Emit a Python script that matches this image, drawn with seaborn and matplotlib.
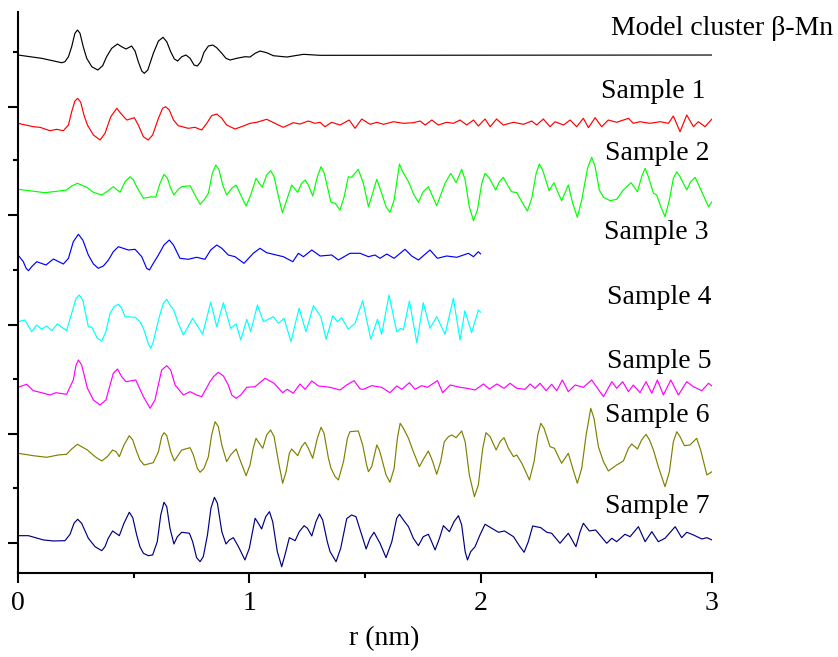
import numpy as np
import pandas as pd
import seaborn as sns
import matplotlib.pyplot as plt
from matplotlib.ticker import MultipleLocator

# (r in nm, G(r) in arbitrary units), one list per curve
model = [(0, 0), (0.102, -0.33), (0.189, -0.77), (0.203, -0.67), (0.218, -0.17), (0.232, 0.83), (0.246, 2.17),
         (0.257, 2.5), (0.268, 2.17), (0.282, 0.83), (0.297, -0.33), (0.319, -1.17), (0.345, -1.5), (0.366, -1.07),
         (0.383, -0.17), (0.405, 0.67), (0.430, 1.1), (0.448, 0.83), (0.467, 0.6), (0.491, 0.9), (0.506, 0.4),
         (0.520, -0.67), (0.535, -1.6), (0.546, -1.83), (0.561, -1.5), (0.585, 0.17), (0.607, 1.4), (0.627, 1.77),
         (0.643, 1.33), (0.660, 0.33), (0.676, -0.4), (0.690, -0.6), (0.708, -0.17), (0.726, 0), (0.744, -0.33),
         (0.761, -1.0), (0.775, -1.1), (0.790, -0.67), (0.804, 0.27), (0.823, 0.9), (0.842, 1.0), (0.859, 0.73),
         (0.881, 0.17), (0.899, -0.33), (0.917, -0.5), (0.945, -0.33), (0.981, -0.17), (1.003, -0.2), (1.025, 0.17),
         (1.046, 0.4), (1.075, 0.23), (1.104, -0.07), (1.162, -0.2), (1.234, 0.07), (1.306, -0.03), (3.0, 0)]

sample1 = [(0, -0.03), (0.066, -0.37), (0.095, -0.43), (0.138, -0.77), (0.167, -0.63), (0.196, -0.77), (0.218, -0.2),
           (0.232, 1.13), (0.246, 2.2), (0.258, 2.47), (0.271, 2.07), (0.285, 0.8), (0.300, -0.2), (0.326, -1.2),
           (0.355, -1.7), (0.376, -1.03), (0.401, 0.63), (0.427, 1.47), (0.444, 0.97), (0.470, 0.3), (0.503, 0.53),
           (0.520, -0.2), (0.542, -1.37), (0.563, -1.7), (0.582, -1.2), (0.607, 0.47), (0.625, 1.47), (0.638, 1.63),
           (0.654, 1.3), (0.672, 0.3), (0.693, -0.27), (0.736, -0.53), (0.765, -0.43), (0.794, -0.7), (0.816, -0.03),
           (0.837, 0.73), (0.859, 0.9), (0.881, 0.47), (0.902, -0.2), (0.938, -0.6), (0.974, -0.3), (1.003, -0.03),
           (1.032, 0.07), (1.075, 0.37), (1.111, -0.03), (1.147, -0.43), (1.190, 0.03), (1.219, -0.1),
           (1.255, 0.2), (1.284, -0.03), (1.306, 0.07), (1.327, -0.37), (1.356, 0.07), (1.392, -0.2), (1.432, 0.3),
           (1.457, -0.53), (1.486, 0.4), (1.522, -0.13), (1.551, 0.07), (1.580, -0.13), (1.623, 0.13), (1.666, -0.03),
           (1.709, 0.03), (1.738, 0.2), (1.760, -0.2), (1.789, 0.3), (1.817, -0.2), (1.853, 0.07), (1.882, -0.03),
           (1.911, 0.3), (1.940, -0.2), (1.969, 0.3), (1.990, -0.3), (2.019, 0.4), (2.041, -0.37), (2.069, 0.4),
           (2.098, -0.2), (2.142, 0.07), (2.185, -0.13), (2.221, 0.2), (2.242, -0.2), (2.271, 0.4), (2.300, -0.37),
           (2.322, 0.13), (2.358, -0.2), (2.387, 0.3), (2.415, -0.37), (2.444, 0.47), (2.466, -0.47), (2.495, 0.53),
           (2.523, -0.37), (2.552, 0.3), (2.588, 0.07), (2.639, 0.47), (2.660, -0.03), (2.689, 0.13), (2.732, -0.03),
           (2.776, 0.13), (2.812, -0.03), (2.833, 0.7), (2.862, -0.87), (2.891, 0.8), (2.920, -0.37), (2.941, 0.13),
           (2.970, -0.37), (3.0, 0.4)]

sample2 = [(0, 0.07), (0.117, -0.27), (0.210, 0), (0.232, 0.4), (0.257, 0.67), (0.297, 0.27), (0.326, -0.23),
           (0.362, -0.5), (0.390, -0.07), (0.412, 0.33), (0.441, -0.23), (0.463, 0.83), (0.484, 1.33), (0.499, 1.0),
           (0.513, 0.33), (0.542, -0.83), (0.578, -0.67), (0.595, -0.73), (0.614, 0.67), (0.631, 1.57), (0.646, 1.17),
           (0.660, 0.17), (0.674, -0.5), (0.693, 0.07), (0.708, 0.33), (0.744, 0.43), (0.761, -0.33), (0.787, -1.43),
           (0.804, -1.0), (0.823, -0.33), (0.840, 1.67), (0.855, 2.5), (0.869, 2.0), (0.885, 0.5), (0.902, -0.5),
           (0.924, 0.17), (0.943, 0.5), (0.963, -0.5), (0.986, -1.6), (1.006, -0.5), (1.029, 1.17), (1.043, 0.67),
           (1.056, 0.27), (1.075, 1.5), (1.092, 1.93), (1.107, 1.33), (1.126, -0.67), (1.143, -2.27), (1.157, -1.33),
           (1.183, 0.5), (1.209, -0.23), (1.226, 0.67), (1.241, 1.0), (1.255, 0.5), (1.274, -0.6), (1.294, 1.33),
           (1.310, 2.33), (1.324, 1.67), (1.353, -1.23), (1.371, -1.33), (1.392, -2.0), (1.410, -0.67), (1.428, 1.33),
           (1.442, 1.27), (1.471, 2.07), (1.493, 0.67), (1.515, -1.67), (1.533, -0.33), (1.551, 1.07), (1.572, -0.33),
           (1.591, -1.67), (1.608, -2.23), (1.626, -1.0), (1.649, 2.6), (1.663, 1.83), (1.688, 0.83), (1.712, -0.5),
           (1.731, -1.23), (1.752, -0.17), (1.774, 0.33), (1.793, -0.67), (1.810, -1.57), (1.827, -0.5), (1.846, 0.67),
           (1.871, 1.67), (1.894, 0.73), (1.918, 2.07), (1.933, 1.0), (1.951, -1.67), (1.969, -3.07), (1.986, -2.0),
           (2.005, 0.67), (2.019, 1.67), (2.038, 1.17), (2.065, 0), (2.081, 0.83), (2.098, 1.27), (2.116, 0.5),
           (2.134, -0.17), (2.156, -0.27), (2.178, -1.17), (2.202, -2.1), (2.221, -0.83), (2.240, 1.67), (2.254, 2.6),
           (2.268, 2.0), (2.296, -0.07), (2.317, 0.73), (2.336, -0.33), (2.350, -1.07), (2.379, 0.5), (2.398, -1.33),
           (2.418, -2.73), (2.437, -1.0), (2.462, 2.17), (2.480, 3.27), (2.495, 2.33), (2.513, 0), (2.531, -0.73),
           (2.560, -1.07), (2.588, -0.93), (2.617, 0), (2.650, 0.73), (2.678, -0.17), (2.696, 1.33), (2.711, 2.17),
           (2.725, 1.33), (2.747, -0.33), (2.761, -0.5), (2.779, -1.67), (2.797, -2.67), (2.816, -1.0), (2.833, 1.17),
           (2.848, 1.83), (2.862, 1.33), (2.891, 0), (2.908, 0.83), (2.927, 1.27), (2.946, 0.33), (2.985, -1.67),
           (3.0, -1.17)]

sample3 = [(0, 0), (0.023, -0.67), (0.035, -1.33), (0.045, -1.57), (0.059, -1.17), (0.081, -0.67), (0.121, -1.0),
           (0.153, -0.4), (0.196, -0.9), (0.218, -0.33), (0.239, 1.33), (0.261, 2.07), (0.280, 1.5), (0.304, 0),
           (0.326, -0.9), (0.347, -1.33), (0.369, -1.1), (0.391, -0.5), (0.412, 0.33), (0.434, 0.83), (0.477, 0.5),
           (0.506, 0.57), (0.535, -0.17), (0.556, -1.33), (0.568, -1.5), (0.585, -0.83), (0.607, 0), (0.631, 1.0),
           (0.654, 1.5), (0.672, 1.0), (0.700, -0.33), (0.736, -0.43), (0.772, -0.23), (0.808, -0.43), (0.833, 0.5),
           (0.859, 1.0), (0.881, 0.67), (0.909, 0), (0.938, -0.17), (0.977, -0.83), (1.017, 0.17), (1.046, 0.67),
           (1.075, 0.23), (1.147, -0.17), (1.188, -0.67), (1.212, 0.17), (1.234, -0.17), (1.270, 0.5), (1.306, -0.1),
           (1.356, 0), (1.385, -0.5), (1.435, 0.17), (1.479, 0.17), (1.515, -0.17), (1.543, 0), (1.565, -0.33),
           (1.594, 0.1), (1.626, -0.33), (1.673, 0.57), (1.702, -0.1), (1.731, -0.5), (1.781, 0.5), (1.813, -0.33),
           (1.853, -0.1), (1.897, -0.23), (1.947, 0.17), (1.969, -0.17), (1.990, 0.33), (2.0, 0.1)]

sample4 = [(0, 0.03), (0.030, 0.2), (0.059, -0.97), (0.081, -0.3), (0.102, -0.73), (0.124, -0.4), (0.146, -0.87),
           (0.170, -0.2), (0.210, -0.87), (0.232, 0.87), (0.251, 2.37), (0.265, 2.7), (0.280, 2.2), (0.304, -0.47),
           (0.319, -0.53), (0.343, -1.63), (0.362, -1.9), (0.380, -0.97), (0.398, 0.87), (0.415, 1.53), (0.434, 1.77),
           (0.448, 1.37), (0.463, 0.53), (0.506, 0.47), (0.527, 0.03), (0.542, -0.63), (0.563, -2.13), (0.574, -2.63),
           (0.585, -1.97), (0.607, 0.2), (0.628, 1.87), (0.643, 2.27), (0.657, 1.7), (0.672, 1.27), (0.693, -0.13),
           (0.715, -1.3), (0.755, 0.37), (0.798, -1.23), (0.833, 1.97), (0.859, -0.47),
           (0.888, 1.93), (0.919, -0.63), (0.943, -0.2), (0.963, -1.8), (0.989, 0.27), (1.006, -0.97), (1.035, 1.7),
           (1.061, 0.03), (1.104, 0.53), (1.126, -0.13), (1.150, 0.37), (1.180, -1.97), (1.215, 1.37), (1.245, -0.97),
           (1.277, 1.63), (1.309, 0.53), (1.332, -1.73), (1.361, 0.63), (1.381, 0.03), (1.399, 0.43), (1.428, -0.73),
           (1.457, -0.13), (1.490, 2.13), (1.525, -1.73), (1.554, 0.27), (1.572, -1.23), (1.604, 2.7), (1.637, -0.97),
           (1.654, -0.63), (1.666, -0.8), (1.692, 2.1), (1.724, -2.07), (1.752, 1.93), (1.781, -0.63), (1.810, 0.53),
           (1.846, -1.23), (1.882, 2.37), (1.911, -1.8), (1.932, 1.13), (1.961, -1.07), (1.990, 1.2), (2.0, 0.97)]

sample5 = [(0, -0.03), (0.038, 0.27), (0.066, -0.37), (0.102, -0.57), (0.138, -0.8), (0.164, -0.57), (0.210, -0.73),
           (0.239, 0.7), (0.251, 2.2), (0.261, 2.7), (0.275, 2.2), (0.300, -0.13), (0.326, -1.3), (0.354, -1.8),
           (0.380, -1.3), (0.412, 1.37), (0.430, 1.8), (0.448, 1.03), (0.467, 0.53), (0.509, 0.7), (0.542, -0.97),
           (0.571, -2.13), (0.592, -1.3), (0.621, 1.7), (0.643, 2.13), (0.660, 1.7), (0.679, 0.2), (0.715, -0.8),
           (0.744, -0.47), (0.772, -0.8), (0.794, -0.97), (0.830, 0.53), (0.845, 1.03), (0.866, 1.47), (0.888, 1.1),
           (0.909, 0.2), (0.924, -0.8), (0.943, -1.13), (0.963, -0.8), (0.989, -0.03), (1.025, 0.03), (1.068, 0.87),
           (1.107, 0.37), (1.144, -0.57), (1.164, -0.23), (1.190, -0.63), (1.219, 0.3), (1.241, -0.23), (1.270, 0.6),
           (1.299, 0.1), (1.349, -0.03), (1.392, -0.3), (1.421, 0.2), (1.453, 0.63), (1.479, -0.2), (1.493, -0.23),
           (1.529, 0.13), (1.572, -0.03), (1.608, -0.57), (1.637, 0.1), (1.659, -0.23), (1.692, 0.43), (1.716, -0.23),
           (1.745, 0.13), (1.770, -0.03), (1.813, 0.63), (1.836, -0.57), (1.868, 0.2), (1.911, -0.03), (1.940, -0.13),
           (1.976, -0.3), (2.012, 0.3), (2.038, -0.2), (2.070, 0.3), (2.101, -0.13), (2.127, 0.37), (2.156, -0.13),
           (2.192, -0.23), (2.214, 0.3), (2.235, -0.13), (2.257, 0.37), (2.283, -0.37), (2.307, 0.27), (2.329, -0.37),
           (2.353, 0.7), (2.379, -0.47), (2.408, 0.2), (2.444, -0.03), (2.480, 0.7), (2.531, -0.97), (2.567, 0.53),
           (2.588, -0.13), (2.614, 0.53), (2.639, -0.47), (2.660, 0.2), (2.689, -0.57), (2.715, 0.53), (2.740, -0.63),
           (2.764, 0.7), (2.790, -0.8), (2.822, 0.7), (2.855, -0.8), (2.891, 0.53), (2.920, 0.03), (2.956, -0.37),
           (2.985, 0.37), (3.0, 0.1)]

sample6 = [(0, -0.03), (0.066, -0.27), (0.124, -0.43), (0.174, -0.2), (0.210, -0.13), (0.232, 0.4), (0.257, 0.87),
           (0.275, 0.63), (0.300, 0.3), (0.333, -0.37), (0.362, -0.8), (0.386, -0.37), (0.409, 0.3), (0.424, 0.13),
           (0.438, -0.37), (0.458, 0.8), (0.481, 1.73), (0.496, 1.3), (0.513, 0.13), (0.527, -0.7), (0.545, -1.2),
           (0.585, -0.97), (0.607, 0.13), (0.621, 1.63), (0.631, 2.03), (0.643, 1.73), (0.660, 0.13), (0.676, -0.8),
           (0.693, -0.2), (0.708, 0.3), (0.744, 0.53), (0.758, -0.2), (0.775, -1.53), (0.787, -1.93), (0.804, -1.53),
           (0.823, -0.37), (0.837, 1.8), (0.852, 3.13), (0.866, 2.63), (0.881, 0.8), (0.902, -0.87), (0.919, -0.2),
           (0.943, 0.4), (0.960, -0.7), (0.986, -2.27), (1.003, -1.2), (1.017, 0.47), (1.029, 1.47), (1.043, 0.97),
           (1.058, 0.47), (1.075, 1.8), (1.092, 2.3), (1.107, 1.63), (1.126, -0.87), (1.144, -3.03), (1.159, -1.87),
           (1.173, -0.03), (1.183, 0.4), (1.209, -0.27), (1.226, 0.63), (1.241, 1.07), (1.255, 0.47), (1.274, -0.53),
           (1.294, 1.47), (1.310, 2.57), (1.323, 1.97), (1.342, -0.53), (1.353, -1.53), (1.371, -2.37), (1.385, -2.7),
           (1.407, -0.87), (1.424, 1.47), (1.435, 2.13), (1.471, 2.2), (1.490, 0.8), (1.507, -1.2), (1.515, -1.87),
           (1.529, -1.37), (1.551, 0.8), (1.562, 0.3), (1.572, -0.53), (1.591, -2.2), (1.608, -2.93), (1.626, -1.53),
           (1.640, 1.47), (1.652, 2.97), (1.666, 2.47), (1.688, 1.47), (1.709, 0.13), (1.735, -1.37), (1.755, -0.53),
           (1.774, 0.2), (1.793, -0.87), (1.810, -2.13), (1.827, -0.87), (1.843, 1.13), (1.861, 1.63), (1.875, 1.8),
           (1.894, 1.53), (1.918, 2.2), (1.933, 1.13), (1.951, -2.2), (1.973, -4.37), (1.990, -3.2), (2.009, 0.47),
           (2.023, 2.03), (2.041, 1.63), (2.067, 0.3), (2.084, 1.13), (2.101, 1.53), (2.120, 0.47), (2.142, -0.37),
           (2.156, -0.2), (2.178, -1.03), (2.211, -2.7), (2.231, -0.87), (2.247, 1.8), (2.260, 2.97), (2.274, 2.47),
           (2.300, 0.63), (2.319, 0.47), (2.336, -0.37), (2.350, -1.03), (2.379, -0.03), (2.398, -1.53),
           (2.418, -3.03), (2.437, -1.53), (2.456, 1.8), (2.476, 4.47), (2.490, 3.47), (2.509, 0.63), (2.531, -0.87),
           (2.552, -1.8), (2.588, -1.2), (2.617, -0.8), (2.639, 0.47), (2.653, 0.9), (2.678, 0.4), (2.696, 1.3),
           (2.715, 1.87), (2.730, 1.3), (2.747, 0.3), (2.768, -1.37), (2.797, -3.37), (2.816, -1.87), (2.833, 1.13),
           (2.848, 2.13), (2.862, 1.63), (2.881, 0.73), (2.905, 0.8), (2.934, 1.47), (2.951, 0.3), (2.978, -2.2),
           (3.0, -1.87)]

sample7 = [(0, 0.03), (0.045, 0.03), (0.110, -0.4), (0.153, -0.5), (0.203, -0.47), (0.225, 0.17), (0.242, 1.27),
           (0.258, 1.67), (0.275, 1.27), (0.304, -0.23), (0.333, -1.07), (0.362, -1.47), (0.376, -1.07),
           (0.390, -0.23), (0.409, 0.5), (0.438, 0.03), (0.458, 1.27), (0.481, 2.37), (0.496, 1.83), (0.513, 0.1),
           (0.527, -1.07), (0.542, -1.73), (0.563, -1.97), (0.582, -1.9), (0.602, -0.57), (0.617, 2.1), (0.631, 3.37),
           (0.643, 2.93), (0.657, 0.77), (0.674, -0.8), (0.689, -0.07), (0.708, 0.37), (0.741, 0.27), (0.755, -0.57),
           (0.772, -2.17), (0.787, -2.57), (0.801, -2.07), (0.819, 0.1), (0.834, 2.77), (0.849, 3.87), (0.862, 3.27),
           (0.881, 0.43), (0.899, -0.8), (0.914, -0.4), (0.931, -0.17), (0.953, -1.07), (0.981, -2.4), (1.000, -1.23),
           (1.025, 1.77), (1.039, 1.27), (1.053, 0.7), (1.071, 1.93), (1.087, 2.43), (1.101, 1.43), (1.121, -1.57),
           (1.140, -3.07), (1.154, -1.9), (1.173, -0.17), (1.198, -0.47), (1.216, 0.43), (1.237, 1.03), (1.251, 0.77),
           (1.270, 0), (1.288, 1.43), (1.303, 2.2), (1.317, 1.6), (1.337, -0.57), (1.349, -1.57), (1.375, -2.57),
           (1.395, -1.23), (1.421, 1.73), (1.442, 2.1), (1.461, 1.93), (1.505, -1.3), (1.522, -0.23), (1.539, 0.37),
           (1.565, -0.73), (1.591, -2.17), (1.616, -0.57), (1.637, 1.77), (1.649, 2.17), (1.666, 1.6), (1.688, 0.93),
           (1.709, -0.23), (1.731, -0.97), (1.752, -0.07), (1.774, 0.17), (1.788, -0.57), (1.803, -1.4),
           (1.822, -0.23), (1.839, 1.03), (1.865, 0.43), (1.885, 1.43), (1.904, 2.03), (1.918, 1.1), (1.933, -1.57),
           (1.943, -2.4), (1.957, -1.57), (1.976, -1.07), (1.997, 0.1), (2.019, 1.17), (2.048, 0.77), (2.077, 0.37),
           (2.103, 0.5), (2.142, -0.07), (2.170, -1.07), (2.188, -1.63), (2.206, -0.57), (2.225, 1.0), (2.260, 0.83),
           (2.286, 0.37), (2.307, 0.27), (2.343, -0.73), (2.379, 0.27), (2.412, -1.07), (2.430, 0.43), (2.444, 1.27),
           (2.470, 0.5), (2.497, 0.6), (2.545, -0.73), (2.567, -0.23), (2.588, -0.57), (2.624, 0.17), (2.646, -0.07),
           (2.682, 0.93), (2.711, -0.57), (2.740, 0.43), (2.768, -0.57), (2.797, -0.23), (2.841, 0.93),
           (2.869, -0.17), (2.891, 0.37), (2.920, 0.1), (2.956, -0.3), (2.978, -0.17), (3.0, -0.4)]

names = ["Model cluster β-Mn", "Sample 1", "Sample 2", "Sample 3", "Sample 4", "Sample 5", "Sample 6", "Sample 7"]
curves = [model, sample1, sample2, sample3, sample4, sample5, sample6, sample7]
offsets = [51.8, 45.0, 38.3, 31.8, 25.1, 18.6, 12.0, 3.7]
colors = ["black", "red", "#00ff00", "blue", "cyan", "magenta", "#808000", "#000080"]

frames = []
for name, pts, off in zip(names, curves, offsets):
    pts = np.array(pts)
    frames.append(pd.DataFrame({"r": pts[:, 0], "G": pts[:, 1] + off, "curve": name}))
df = pd.concat(frames, ignore_index=True)

sns.set_style("ticks")
plt.rcParams["font.family"] = ["Liberation Serif", "DejaVu Serif"]
plt.rcParams["text.color"] = "black"
plt.rcParams["axes.labelcolor"] = "black"
plt.rcParams["xtick.color"] = "black"
plt.rcParams["ytick.color"] = "black"

fig = plt.figure(figsize=(8.38, 6.57), dpi=100)
ax = fig.add_axes([0.0215, 0.1279, 0.8281, 0.8538])

sns.lineplot(data=df, x="r", y="G", hue="curve", palette=dict(zip(names, colors)),
             estimator=None, sort=False, legend=False, linewidth=0.85, ax=ax)
for line in ax.get_lines():
    line.set_solid_joinstyle("round")

ax.set_xlim(0, 3)
ax.set_ylim(0, 56.1)
sns.despine(ax=ax)
for s in ["left", "bottom"]:
    ax.spines[s].set_linewidth(1.5)
    ax.spines[s].set_color("black")

ax.set_xticks([0, 1, 2, 3])
ax.xaxis.set_minor_locator(MultipleLocator(0.5))
ax.set_yticks([3.0, 13.9, 24.8, 35.8, 46.6])
ax.set_yticks([8.5, 19.4, 30.3, 41.3, 52.1], minor=True)
ax.tick_params(which="major", direction="out", length=7, width=1.5, colors="black", labelsize=20, pad=6)
ax.tick_params(which="minor", direction="out", length=3.5, width=1.5, colors="black")
ax.tick_params(axis="y", labelleft=False)

ax.set_xlabel("r (nm)", fontsize=20, color="black")
ax.set_ylabel("")
ax.xaxis.set_label_coords(0.527, -0.095)

# curve labels
label_x = [3.524, 2.974, 2.991, 2.983, 2.996, 2.996, 2.991, 2.991]
label_y = [54.45, 48.2, 42.0, 34.1, 27.55, 21.1, 15.7, 6.6]
for name, lx, ly in zip(names, label_x, label_y):
    ax.text(lx, ly, name, ha="right", va="center", fontsize=20, color="black", clip_on=False)

fig.savefig("out.png", dpi=100)
